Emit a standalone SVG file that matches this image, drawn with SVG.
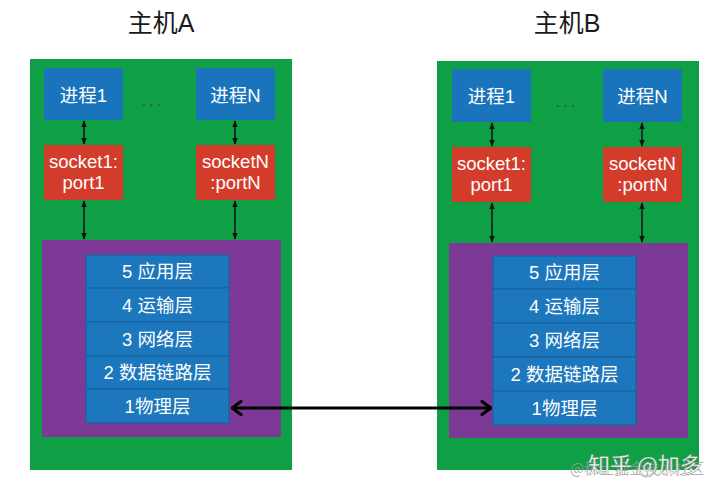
<svg xmlns="http://www.w3.org/2000/svg" width="720" height="492" viewBox="0 0 720 492">
<defs>
<style>
.t{font-family:"Liberation Sans","Noto Sans CJK SC",sans-serif;fill:#fff;text-anchor:middle}
.title{font-family:"Liberation Sans","Noto Sans CJK SC",sans-serif;fill:#1a1a1a;text-anchor:middle;font-size:25px}
.green{fill:#0f9f45}
.purple{fill:#7d3996}
.proc{fill:#1a74bc}
.sock{fill:#d33b2b}
.layer{fill:#1c77bd;stroke:#15629e;stroke-width:1}
.small{stroke:#111;stroke-width:1.5;fill:none;marker-start:url(#ah);marker-end:url(#ah)}
.dots{font-family:"Liberation Sans",sans-serif;font-size:16px;fill:#2b5a3c;text-anchor:middle;letter-spacing:3px}
</style>
<marker id="ah" viewBox="0 0 10 10" refX="9" refY="5" markerWidth="7" markerHeight="7" orient="auto-start-reverse" markerUnits="userSpaceOnUse">
<path d="M0,1 L10,5 L0,9 Z" fill="#111"/>
</marker>
<marker id="big" viewBox="0 0 12 16" refX="11" refY="8" markerWidth="12" markerHeight="16" orient="auto-start-reverse" markerUnits="userSpaceOnUse">
<path d="M2,1.5 L11,8 L2,14.5" fill="none" stroke="#000" stroke-width="3" stroke-linecap="round" stroke-linejoin="round"/>
</marker>
</defs>
<rect width="720" height="492" fill="#fff"/>

<g id="hostA">
<text class="title" x="161" y="32">主机A</text>
<rect class="green" x="30" y="59" width="262" height="411"/>
<rect class="purple" x="42" y="240" width="239" height="197"/>
<text class="dots" x="153" y="106">...</text>
</g>
<g id="procA1"><rect class="proc" x="44" y="68" width="79" height="52"/><text class="t" x="83.5" y="102" font-size="18.5">进程1</text></g>
<g id="procAN"><rect class="proc" x="196" y="68" width="79" height="52"/><text class="t" x="235.5" y="102" font-size="18.5">进程N</text></g>
<g id="sockA1"><rect class="sock" x="44" y="145" width="79" height="55"/><text class="t" x="83.5" y="168" font-size="18.5">socket1:</text><text class="t" x="83.5" y="189" font-size="18.5">port1</text></g>
<g id="sockAN"><rect class="sock" x="196" y="145" width="79" height="55"/><text class="t" x="235.5" y="168" font-size="18.5">socketN</text><text class="t" x="235.5" y="189" font-size="18.5">:portN</text></g>
<g id="layersA">
<rect class="layer" x="86" y="255" width="143" height="33"/><text class="t" x="157.5" y="278" font-size="18.5">5 应用层</text>
<rect class="layer" x="86" y="288" width="143" height="34"/><text class="t" x="157.5" y="312" font-size="18.5">4 运输层</text>
<rect class="layer" x="86" y="322" width="143" height="34"/><text class="t" x="157.5" y="346" font-size="18.5">3 网络层</text>
<rect class="layer" x="86" y="356" width="143" height="33"/><text class="t" x="157.5" y="379" font-size="18.5">2 数据链路层</text>
<rect class="layer" x="86" y="389" width="143" height="34"/><text class="t" x="157.5" y="413" font-size="18.5">1物理层</text>
</g>

<g id="hostB">
<text class="title" x="567" y="32">主机B</text>
<rect class="green" x="437" y="61" width="262" height="409"/>
<rect class="purple" x="449" y="243" width="239" height="195"/>
<text class="dots" x="567" y="107">...</text>
</g>
<g id="procB1"><rect class="proc" x="452" y="69" width="79" height="53"/><text class="t" x="491.5" y="103" font-size="18.5">进程1</text></g>
<g id="procBN"><rect class="proc" x="603" y="69" width="79" height="53"/><text class="t" x="642.5" y="103" font-size="18.5">进程N</text></g>
<g id="sockB1"><rect class="sock" x="452" y="147" width="79" height="55"/><text class="t" x="491.5" y="170" font-size="18.5">socket1:</text><text class="t" x="491.5" y="191" font-size="18.5">port1</text></g>
<g id="sockBN"><rect class="sock" x="603" y="147" width="79" height="55"/><text class="t" x="642.5" y="170" font-size="18.5">socketN</text><text class="t" x="642.5" y="191" font-size="18.5">:portN</text></g>
<g id="layersB">
<rect class="layer" x="493" y="256" width="143" height="33"/><text class="t" x="564.5" y="279" font-size="18.5">5 应用层</text>
<rect class="layer" x="493" y="289" width="143" height="34"/><text class="t" x="564.5" y="313" font-size="18.5">4 运输层</text>
<rect class="layer" x="493" y="323" width="143" height="34"/><text class="t" x="564.5" y="347" font-size="18.5">3 网络层</text>
<rect class="layer" x="493" y="357" width="143" height="34"/><text class="t" x="564.5" y="381" font-size="18.5">2 数据链路层</text>
<rect class="layer" x="493" y="391" width="143" height="34"/><text class="t" x="564.5" y="415" font-size="18.5">1物理层</text>
</g>

<g id="connectors">
<line class="small" x1="84" y1="121" x2="84" y2="144"/>
<line class="small" x1="84" y1="201" x2="84" y2="239"/>
<line class="small" x1="235" y1="121" x2="235" y2="144"/>
<line class="small" x1="235" y1="201" x2="235" y2="239"/>
<line class="small" x1="492" y1="123" x2="492" y2="146"/>
<line class="small" x1="492" y1="203" x2="492" y2="242"/>
<line class="small" x1="642" y1="123" x2="642" y2="146"/>
<line class="small" x1="642" y1="203" x2="642" y2="242"/>
<line x1="232" y1="408" x2="491" y2="408" stroke="#000" stroke-width="3" marker-start="url(#big)" marker-end="url(#big)"/>
</g>

<g id="watermark">
<text x="570" y="474" font-family="Noto Sans CJK SC,sans-serif" font-size="15" fill="#999" fill-opacity="0.8">@稀土掘金技术社区</text>
<text x="588" y="473" font-family="Noto Sans CJK SC,sans-serif" font-size="22" fill="#fff" stroke="#888" stroke-width="0.4">知乎 @加多</text>
</g>
</svg>
